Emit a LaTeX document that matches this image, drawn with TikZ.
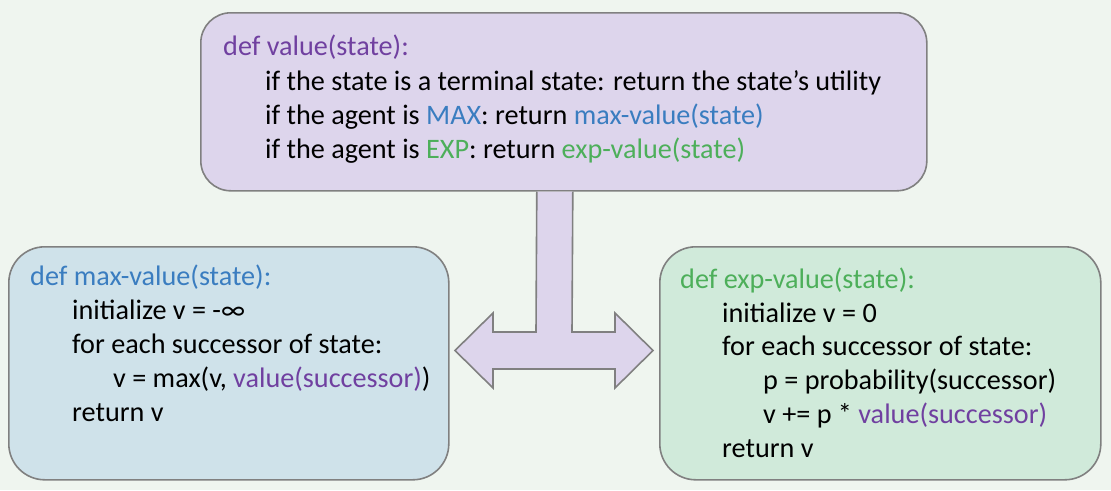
\documentclass[tikz,border=0pt]{standalone}
\usepackage{fontspec}
\setmainfont{Carlito}
\definecolor{bgc}{HTML}{EFF5EF}
\definecolor{edgec}{HTML}{808080}
\definecolor{lavender}{HTML}{DDD5EC}
\definecolor{paleblue}{HTML}{CFE2EA}
\definecolor{palegreen}{HTML}{D0EADA}
\definecolor{purpletxt}{HTML}{7040A0}
\definecolor{bluetxt}{HTML}{3A7DC0}
\definecolor{greentxt}{HTML}{4DAF5A}
\tikzset{
  codebox/.style={draw=edgec, line width=1.6pt, rounded corners=36pt, anchor=north west, inner sep=0pt},
  codeline/.style={anchor=base west, inner sep=0pt, font=\fontsize{28.2}{33}\selectfont},
  blockarrow/.style={draw=edgec, line width=1.6pt, fill=lavender, line join=miter}
}
\begin{document}
\begin{tikzpicture}[x=1pt,y=-1pt]
\useasboundingbox[fill=bgc] (0,0) rectangle (1111,490);

% dispatcher box and the two evaluation boxes
\node[codebox, fill=lavender, minimum width=726pt, minimum height=178pt, rounded corners=30pt] (top) at (200,12) {};
\node[codebox, fill=paleblue, minimum width=440pt, minimum height=233pt] (maxbox) at (8,246) {};
\node[codebox, fill=palegreen, minimum width=441pt, minimum height=233pt] (expbox) at (659,246) {};

% T-shaped double arrow hanging below the dispatcher
\coordinate (stemL) at ([xshift=-27pt]top.south);
\coordinate (stemR) at ([xshift=9pt]top.south);
\draw[blockarrow] (stemL) -- (536,332) -- (493,332) -- (493,313) -- (455,350.5)
  -- (493,388) -- (493,369) -- (615,369) -- (615,388) -- (653,350.5)
  -- (615,313) -- (615,332) -- (572,332) -- (stemR);

% value(state)
\node[codeline, text=purpletxt] (t1) at (223,55) {def value(state):};
\node[codeline] (t2) at (265,90) {if the state is a terminal state: return the state’s utility};
\node[codeline] (t3) at (265,124) {if the agent is \textcolor{bluetxt}{MAX}: return \textcolor{bluetxt}{max-value(state)}};
\node[codeline] (t4) at (265,158) {if the agent is \textcolor{greentxt}{EXP}: return \textcolor{greentxt}{exp-value(state)}};

% max-value(state)
\node[codeline, text=bluetxt] (m1) at (30,285) {def max-value(state):};
\node[codeline] (m2) at (72,319) {initialize v = -∞};
\node[codeline] (m3) at (72,353) {for each successor of state:};
\node[codeline] (m4) at (113,387) {v = max(v, \textcolor{purpletxt}{value(successor)})};
\node[codeline] (m5) at (72,421) {return v};

% exp-value(state)
\node[codeline, text=greentxt] (e1) at (680,288) {def exp-value(state):};
\node[codeline] (e2) at (722,322) {initialize v = 0};
\node[codeline] (e3) at (722,355) {for each successor of state:};
\node[codeline] (e4) at (763,389) {p = probability(successor)};
\node[codeline] (e5) at (763,423) {v += p * \textcolor{purpletxt}{value(successor)}};
\node[codeline] (e6) at (722,457) {return v};
\end{tikzpicture}
\end{document}
